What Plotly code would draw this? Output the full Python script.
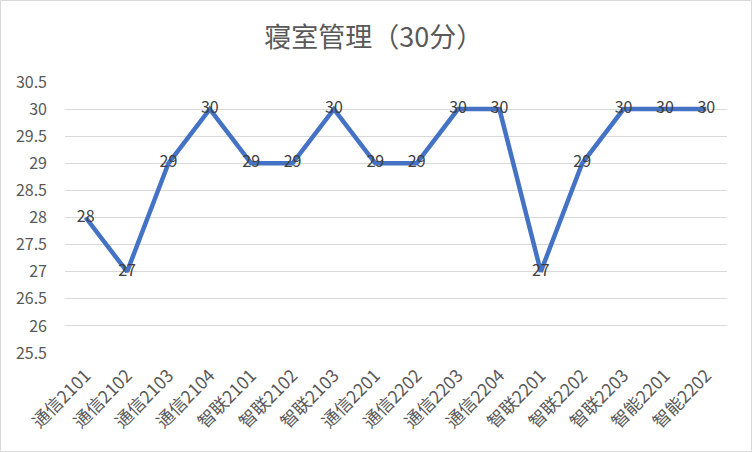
import plotly.graph_objects as go

categories = ["通信2101", "通信2102", "通信2103", "通信2104", "智联2101", "智联2102", "智联2103",
              "通信2201", "通信2202", "通信2203", "通信2204", "智联2201", "智联2202", "智联2203",
              "智能2201", "智能2202"]
scores = [28, 27, 29, 30, 29, 29, 30, 29, 29, 30, 30, 27, 29, 30, 30, 30]
y_ticks = [25.5, 26, 26.5, 27, 27.5, 28, 28.5, 29, 29.5, 30, 30.5]

W, H = 752, 452
ml, mr, mt, mb = 65, 25, 82, 99
pw, ph = W - ml - mr, H - mt - mb

fig = go.Figure(go.Scatter(
    x=categories, y=scores, mode="lines+text",
    line=dict(color="#4472C4", width=4.5),
    text=[str(v) for v in scores], textposition="middle center",
    textfont=dict(family="Noto Sans CJK SC", size=16, color="#404040"),
    cliponaxis=False, hoverinfo="x+y",
))

fig.update_layout(
    width=W, height=H,
    margin=dict(l=ml, r=mr, t=mt, b=mb),
    paper_bgcolor="white", plot_bgcolor="white",
    showlegend=False,
    title=dict(text="寝室管理（30分）", x=0.497, xanchor="center", y=1 - 38 / H, yanchor="middle",
               font=dict(family="Noto Sans CJK SC", size=27, color="#595959")),
    font=dict(family="Noto Sans CJK SC", color="#595959"),
    xaxis=dict(type="category", range=[-0.5, len(categories) - 0.5], tickangle=-45,
               showgrid=False, showline=False, ticks="", ticklabelstandoff=8,
               tickfont=dict(family="Noto Sans CJK SC", size=17.5, color="#595959")),
    yaxis=dict(range=[25.5, 30.5], tickvals=y_ticks, ticktext=[f"{v:g}" for v in y_ticks],
               showgrid=True, gridcolor="#D9D9D9", gridwidth=1.3, zeroline=False, showline=False,
               ticks="", ticklabelstandoff=17,
               tickfont=dict(family="Noto Sans CJK SC", size=16, color="#595959")),
    shapes=[dict(type="rect", xref="paper", yref="paper",
                 x0=-(ml - 0.5) / pw, x1=1 + (mr - 0.5) / pw,
                 y0=-(mb - 0.5) / ph, y1=1 + (mt - 0.5) / ph,
                 line=dict(color="#D9D9D9", width=1), layer="below")],
)

fig.write_html("out.html", config={"displayModeBar": False},
               post_script="document.body.style.margin='0';document.body.style.overflow='hidden';")
